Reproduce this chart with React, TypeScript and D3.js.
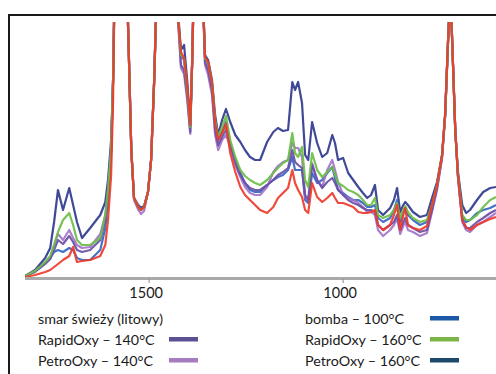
import React from "react";
import * as d3 from "d3";

// Wavenumbers (cm-1), decreasing left to right
const WAVENUMBERS = [
  1820, 1794, 1768, 1755, 1745, 1735, 1722, 1706, 1696, 1686, 1673, 1652, 1626, 1613, 1606, 1598,
  1593, 1588, 1580, 1570, 1559, 1552, 1546, 1539, 1528, 1521, 1513, 1503, 1495, 1487, 1479, 1472,
  1451, 1433, 1425, 1418, 1410, 1402, 1394, 1389, 1384, 1374, 1363, 1356, 1348, 1338, 1330, 1322,
  1312, 1302, 1291, 1278, 1265, 1253, 1240, 1227, 1214, 1196, 1180, 1168, 1155, 1142, 1131, 1124,
  1116, 1106, 1098, 1090, 1080, 1067, 1054, 1041, 1028, 1021, 1013, 1000, 987, 974, 961, 949,
  938, 928, 918, 910, 897, 879, 869, 861, 853, 845, 840, 833, 820, 802, 784, 771,
  758, 745, 737, 730, 724, 719, 711, 704, 693, 683, 673, 655, 639, 621, 606,
];

// Absorbance (arbitrary units)
const PETROOXY_160 = [
  2, 8, 20, 30, 56, 88, 68, 90, 73, 56, 40, 50, 63, 76, 98, 138,
  198, 318, 358, 358, 318, 218, 128, 80, 73, 70, 72, 86, 118, 198, 308, 358,
  358, 328, 263, 228, 233, 198, 153, 218, 308, 358, 298, 223, 218, 198, 163, 143,
  158, 169, 156, 143, 136, 128, 121, 118, 118, 136, 146, 150, 147, 148, 196, 188,
  196, 175, 123, 118, 156, 135, 121, 125, 143, 135, 118, 120, 105, 98, 91, 85,
  80, 83, 93, 68, 63, 70, 78, 90, 66, 73, 76, 73, 66, 61, 63, 80,
  96, 123, 163, 233, 288, 238, 148, 106, 73, 65, 68, 78, 86, 90, 91,
];
const RAPIDOXY_160 = [
  2, 7, 16, 22, 33, 46, 58, 65, 53, 38, 33, 33, 40, 63, 88, 128,
  198, 318, 358, 358, 318, 218, 128, 80, 71, 68, 71, 86, 118, 198, 308, 358,
  358, 328, 258, 223, 220, 188, 151, 218, 308, 358, 298, 220, 215, 195, 158, 141,
  151, 162, 138, 121, 108, 102, 98, 95, 93, 98, 105, 110, 115, 118, 145, 125,
  121, 131, 98, 91, 125, 108, 101, 106, 111, 103, 95, 92, 88, 86, 83, 78,
  73, 73, 80, 63, 60, 63, 68, 75, 60, 68, 72, 66, 60, 56, 58, 73,
  93, 123, 163, 233, 288, 238, 148, 103, 63, 58, 58, 63, 71, 78, 81,
];
const BOMBA_100 = [
  2, 7, 15, 20, 26, 28, 26, 30, 28, 20, 18, 18, 28, 50, 78, 123,
  198, 318, 358, 358, 318, 218, 128, 80, 71, 68, 71, 86, 118, 198, 308, 358,
  358, 328, 258, 223, 218, 190, 151, 218, 308, 358, 298, 220, 215, 193, 156, 138,
  146, 156, 135, 118, 105, 95, 88, 86, 86, 93, 98, 101, 103, 108, 121, 108,
  108, 108, 78, 75, 105, 95, 98, 105, 111, 100, 88, 85, 81, 78, 78, 75,
  71, 71, 73, 60, 56, 60, 68, 78, 56, 66, 70, 63, 58, 53, 56, 73,
  93, 123, 163, 233, 288, 238, 148, 103, 61, 56, 58, 65, 68, 70, 73,
];
const PETROOXY_140 = [
  2, 7, 15, 20, 33, 44, 38, 48, 40, 33, 30, 31, 44, 63, 88, 128,
  198, 318, 358, 358, 318, 218, 128, 78, 68, 64, 67, 86, 118, 198, 308, 358,
  358, 328, 253, 210, 204, 178, 144, 218, 308, 358, 298, 213, 203, 183, 143, 128,
  138, 143, 131, 113, 101, 91, 85, 83, 83, 91, 106, 112, 116, 118, 135, 130,
  130, 121, 81, 78, 115, 98, 91, 108, 118, 108, 96, 83, 80, 78, 75, 71,
  66, 66, 63, 48, 42, 48, 53, 60, 44, 52, 56, 48, 46, 42, 45, 66,
  88, 120, 163, 233, 288, 238, 148, 100, 56, 48, 46, 53, 56, 61, 65,
];
const RAPIDOXY_140 = [
  2, 6, 14, 19, 28, 38, 34, 42, 36, 28, 26, 28, 38, 58, 83, 128,
  198, 318, 358, 358, 318, 218, 128, 80, 71, 68, 71, 86, 118, 198, 308, 358,
  358, 328, 258, 213, 208, 183, 146, 218, 308, 358, 298, 216, 208, 188, 148, 133,
  141, 148, 133, 116, 103, 95, 90, 88, 88, 93, 98, 103, 106, 110, 128, 116,
  113, 110, 83, 78, 113, 98, 90, 96, 100, 95, 88, 83, 78, 75, 73, 70,
  68, 68, 66, 53, 48, 53, 56, 63, 48, 56, 60, 53, 50, 46, 48, 68,
  90, 121, 163, 233, 288, 238, 148, 101, 58, 50, 50, 56, 60, 65, 68,
];
const SMAR_SWIEZY = [
  1, 3, 6, 8, 11, 14, 18, 22, 31, 16, 17, 18, 22, 33, 58, 103,
  178, 318, 358, 358, 318, 218, 128, 80, 71, 68, 71, 86, 118, 198, 308, 358,
  358, 328, 258, 226, 220, 193, 153, 218, 308, 358, 298, 221, 216, 195, 155, 138,
  145, 154, 125, 106, 91, 83, 78, 73, 68, 65, 71, 80, 85, 90, 108, 95,
  88, 81, 68, 65, 95, 81, 76, 80, 85, 80, 75, 75, 73, 71, 66, 65,
  65, 66, 68, 53, 48, 53, 63, 73, 48, 63, 70, 53, 50, 48, 52, 73,
  93, 123, 166, 233, 288, 238, 148, 103, 58, 51, 48, 53, 56, 59, 61,
];

const TICK_VALUES = [1500, 1000];

const SERIES_NAMES = [
  "smar świeży (litowy)",
  "RapidOxy – 140°C",
  "PetroOxy – 140°C",
  "bomba – 100°C",
  "RapidOxy – 160°C",
  "PetroOxy – 160°C",
];
const SERIES_VALUES = [SMAR_SWIEZY, RAPIDOXY_140, PETROOXY_140, BOMBA_100, RAPIDOXY_160, PETROOXY_160];
const LINE_COLORS = ["#ee3b2b", "#6a4ea6", "#a374c9", "#3565c2", "#6cbd48", "#2f3a8e"];
const SWATCH_COLORS = [null, "#5a5192", "#a57cc0", "#1b59a8", "#7ab547", "#1d4a6c"];
const DRAW_ORDER = [5, 3, 2, 1, 4, 0];

export default function App() {
  const W = 496;
  const H = 374;
  const left = 25;
  const right = 496;
  const top = 22;
  const bottom = 278;

  const x = d3.scaleLinear().domain([1820, 606]).range([left, right]);
  const y = d3.scaleLinear().domain([0, 256]).range([bottom, top]);

  const line = d3
    .line<number>()
    .x((_, i) => x(WAVENUMBERS[i]))
    .y((d) => y(d))
    .curve(d3.curveLinear);

  const font = "Lato, 'Open Sans', sans-serif";
  const legendRows = [324, 345, 366];

  return (
    <svg
      width={W}
      height={H}
      style={{ position: "absolute", left: 0, top: 0, background: "#fff" }}
    >
      <defs>
        <clipPath id="plotClip">
          <rect x={left} y={top} width={right - left} height={bottom - top + 2} />
        </clipPath>
      </defs>
      {/* frame */}
      <path d={`M9,${H} V15 H${W}`} fill="none" stroke="#1a1a1a" strokeWidth={2} />

      <g clipPath="url(#plotClip)">
        {DRAW_ORDER.map((si) => (
          <path
            key={si}
            d={line(SERIES_VALUES[si]) || ""}
            fill="none"
            stroke={LINE_COLORS[si]}
            strokeWidth={2.2}
            strokeLinejoin="round"
            opacity={0.92}
          />
        ))}
      </g>

      {/* x axis */}
      <line x1={left} x2={right} y1={bottom + 0.5} y2={bottom + 0.5} stroke="#a9a9a9" strokeWidth={3} />
      {TICK_VALUES.map((t) => (
        <g key={t}>
          <line x1={x(t)} x2={x(t)} y1={bottom + 1} y2={bottom + 5} stroke="#8a8a8a" strokeWidth={1} />
          <text x={x(t) - 3} y={298} textAnchor="middle" fontFamily={font} fontSize={14.5} fill="#1a1a1a">
            {t}
          </text>
        </g>
      ))}

      {/* legend */}
      {SERIES_NAMES.map((name, i) => {
        const col = i < 3 ? 0 : 1;
        const row = i % 3;
        const tx = col === 0 ? 38 : 305;
        const sx = col === 0 ? 169 : 430;
        const yy = legendRows[row];
        return (
          <g key={name}>
            <text x={tx} y={yy} fontFamily={font} fontSize={14.3} fill="#1a1a1a">
              {name}
            </text>
            {SWATCH_COLORS[i] && (
              <rect x={sx} y={yy - 8} width={29} height={4.5} fill={SWATCH_COLORS[i] as string} />
            )}
          </g>
        );
      })}
    </svg>
  );
}
